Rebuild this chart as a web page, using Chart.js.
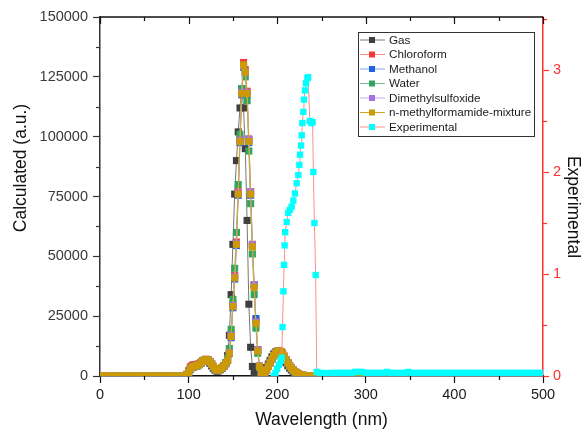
<!DOCTYPE html>
<html><head><meta charset="utf-8">
<script src="https://cdn.jsdelivr.net/npm/chart.js@4"></script>
<style>html,body{margin:0;padding:0;background:#fff}canvas{display:block}</style>
</head><body>
<canvas id="c" width="585" height="433"></canvas>
<script>
// ---------- DATA ----------
const seriesNames = ['Gas','Chloroform','Methanol','Water','Dimethylsulfoxide','n-methylformamide-mixture','Experimental'];

// wavelength grid of the calculated spectra (nm)
const lowNm = [0,4,8,12,16,20,24,28,32,36,40,44,48,52,56,60,64,68,72,76,80,84,88,92];
const lowVals = [0,0,0,0,0,0,0,0,0,0,0,0,0,0,0,0,0,0,0,0,0,0,0,0];
const peakNm = [
  96,98,100,102,104,106,108,110,112,114,
  116,118,120,122,124,126,128,130,132,134,
  136,138,140,142,144,146,148,150,152,154,
  156,158,160,162,164,166,168,170,172,174,
  176,178,180,182,184,186,188,190,192,194,
  196,198,200,202,204,206,208,210,212,214,
  216,218,220,222,224,226,228,230,232,234,
  236,238,240,242,244,246,248,250,252,254,
  256,258,260,262,264,266,268,270,272,274,
  276,278,280];
const highNm = [284,288,292,296,300,304,308,312,316,320,324,328,332,336,340,344,348,352,356,360,364,368,372,376,380,384,388,392,396,400,404,408,412,416,420,424,428,432,436,440,444,448,452,456,460,464,468,472,476,480,484,488,492,496,500];
const highVals = [0,0,0,0,0,0,0,0,0,0,0,0,0,0,0,0,0,0,0,0,0,0,0,0,0,0,0,0,0,0,0,0,0,0,0,0,0,0,0,0,0,0,0,0,0,0,0,0,0,0,0,0,0,0,0];

const gasPeak = [
  0,400,1300,2700,3500,3800,4000,4300,4800,5500,
  6100,6500,6600,6200,5300,4200,3200,2400,2000,2200,
  2700,3300,4200,5500,8500,17000,34000,55000,76000,90000,
  102000,112000,120000,112000,95000,65000,30000,12000,4000,1500,
  800,500,400,500,1000,2000,3500,5000,6500,8000,
  9200,10000,10300,10000,9300,8200,6800,5500,4300,3300,
  2500,1800,1300,900,600,400,250,150,100,50,
  0,0,0,0,0,0,0,0,0,0,
  200,400,600,700,700,600,400,300,150,50,
  0,0,0];
const chloroformPeak = [
  0,800,2200,3800,4500,4700,4800,4900,5200,5800,
  6400,6900,7000,6800,6100,5100,4000,3000,2500,2500,
  3000,3600,4300,5300,6800,10000,17500,30000,42000,56000,
  77000,99000,119000,131000,128000,119000,99000,77000,55000,38000,
  23000,11000,4200,1500,1000,1500,2600,4100,5600,7100,
  8600,9600,10300,10600,10300,9600,8300,6900,5600,4400,
  3400,2600,1900,1300,900,600,400,250,150,100,
  50,0,0,0,0,0,0,0,0,0,
  200,500,700,800,800,700,500,300,200,100,
  0,0,0];
const methanolPeak = [
  0,500,1500,2900,3700,3900,4100,4300,4700,5400,
  6100,6600,6800,6600,5900,4900,3900,2900,2400,2400,
  2900,3400,4100,5100,6400,9400,16000,28500,40500,54500,
  75500,97500,117500,129000,126500,117500,97500,75500,54500,38000,
  24000,11000,3800,1400,1000,1500,2500,4000,5500,7000,
  8400,9400,10100,10400,10100,9400,8100,6700,5400,4200,
  3200,2400,1700,1200,850,550,350,200,120,80,
  40,0,0,0,0,0,0,0,0,0,
  300,600,800,900,900,800,600,400,200,100,
  0,0,0];
const waterPeak = [
  0,600,1700,3100,3900,4100,4300,4500,4900,5600,
  6300,6800,6900,6600,5800,4800,3800,2900,2400,2500,
  3000,3600,4400,5600,7500,11500,19500,32000,45000,60000,
  80000,101000,120000,129000,125000,115000,94000,72000,51000,34000,
  20000,9500,3600,1300,1000,1600,2700,4200,5700,7200,
  8700,9700,10300,10500,10100,9300,8000,6600,5300,4100,
  3100,2300,1600,1100,800,500,300,200,100,50,
  0,0,0,0,0,0,0,0,0,0,
  300,600,800,900,900,800,600,400,200,100,
  0,0,0];
const dmsoPeak = [
  0,500,1600,3000,3800,4000,4200,4400,4800,5500,
  6200,6700,6900,6700,6000,5000,4000,3000,2500,2500,
  3000,3500,4200,5200,6600,9800,17000,29500,41500,55500,
  76500,98500,118500,129500,127000,118500,99000,77000,55000,38000,
  22500,11000,4200,1500,1000,1500,2500,4000,5500,7000,
  8500,9500,10200,10500,10200,9500,8200,6800,5500,4300,
  3300,2500,1800,1300,900,600,400,250,150,100,
  50,0,0,0,0,0,0,0,0,0,
  300,600,800,900,900,800,600,400,200,100,
  0,0,0];
const nmfPeak = [
  0,500,1500,3000,3800,4000,4200,4400,4800,5500,
  6200,6700,6900,6700,6000,5000,4000,3000,2500,2500,
  3000,3500,4200,5200,6500,9500,16500,29000,41000,55000,
  76000,98000,118000,130000,127000,118000,98000,76000,54000,37000,
  22000,10500,4000,1500,1000,1500,2500,4000,5500,7000,
  8500,9500,10200,10500,10200,9500,8200,6800,5500,4300,
  3300,2500,1800,1300,900,600,400,250,150,100,
  50,0,0,0,0,0,0,0,0,0,
  300,600,800,900,900,800,600,400,200,100,
  0,0,0];

// experimental spectrum (right axis)
const expNm = [196,198,200,202,204,205,206,207,207.7,208.4,209,210.7,212.5,214.3,216.3,218.2,220,222,223.8,225,
  225.7,226.9,227.7,228.4,229.5,230.2,231.4,232.5,234,235,236.8,238.5,240,240.8,242,243.4,244.6,
  248,252,256,260,264,268,272,276,280,284,288,292,296,300,304,308,312,316,320,324,328,332,336,340,344,348,352,356,360,
  364,368,372,376,380,384,388,392,396,400,404,408,412,416,420,424,428,432,436,440,444,448,452,456,460,464,468,472,476,480,484,488,492,496,500];
const expVals = [0,0.03,0.07,0.11,0.15,0.18,0.48,0.83,1.09,1.28,1.41,1.51,1.60,1.63,1.66,1.72,1.79,1.89,1.97,2.07,
  2.17,2.26,2.36,2.48,2.59,2.71,2.80,2.87,2.92,2.93,2.50,2.48,2.49,2.00,1.50,0.99,0.04,
  0.03,0.03,0.02,0.03,0.03,0.03,0.03,0.03,0.03,0.03,0.04,0.04,0.04,0.03,0.03,0.03,0.03,0.03,0.03,0.04,0.03,0.03,0.03,0.03,0.03,0.04,0.03,0.03,0.03,
  0.03,0.03,0.03,0.03,0.03,0.03,0.03,0.03,0.03,0.03,0.03,0.03,0.03,0.03,0.03,0.03,0.03,0.03,0.03,0.03,0.03,0.03,0.03,0.03,0.03,0.03,0.03,0.03,0.03,0.03,0.03,0.03,0.03,0.03,0.03];

// ticks
const xTickValues = [0,100,200,300,400,500];
const xMinorValues = [50,150,250,350,450];
const yTickValues = [0,25000,50000,75000,100000,125000,150000];
const yMinorValues = [12500,37500,62500,87500,112500,137500];
const y2TickValues = [0,1,2,3];
const y2MinorValues = [0.5,1.5,2.5,3.5];

// ---------- STYLE ----------
const FONT = "'Liberation Sans', Arial, sans-serif";
Chart.defaults.font.family = FONT;
const styles = [
  {line:'#767676', mark:'#3f3f3f'},
  {line:'#ff8a8a', mark:'#f23c3c'},
  {line:'#80a8f0', mark:'#2062e0'},
  {line:'#6cc48c', mark:'#2ea65e'},
  {line:'#caa8f2', mark:'#a472e6'},
  {line:'#d9a520', mark:'#cc9a06'},
  {line:'#ff8c8c', mark:'#00ffff'}
];

function calcPoints(peak){
  const pts = [];
  lowNm.forEach((x,i)=>pts.push({x, y: lowVals[i]}));
  peakNm.forEach((x,i)=>pts.push({x, y: peak[i]}));
  highNm.forEach((x,i)=>pts.push({x, y: highVals[i]}));
  return pts;
}
const calcSeries = [gasPeak, chloroformPeak, methanolPeak, waterPeak, dmsoPeak, nmfPeak];
const drawOrder = [6,5,4,3,2,1,0];

const datasets = calcSeries.map((peak,i)=>({
  label: seriesNames[i],
  data: calcPoints(peak),
  yAxisID: 'y',
  borderColor: styles[i].line,
  borderWidth: 1,
  backgroundColor: styles[i].mark,
  pointBackgroundColor: styles[i].mark,
  pointBorderWidth: 0,
  pointStyle: 'rect',
  pointRadius: 5,
  tension: 0,
  order: drawOrder[i]
}));
datasets.push({
  label: seriesNames[6],
  data: expNm.map((x,i)=>({x, y: expVals[i]})),
  yAxisID: 'y2',
  borderColor: styles[6].line,
  borderWidth: 1,
  backgroundColor: styles[6].mark,
  pointBackgroundColor: styles[6].mark,
  pointBorderWidth: 0,
  pointStyle: 'rect',
  pointRadius: 4.5,
  tension: 0,
  order: 0
});

const decor = {
  id: 'decor',
  afterDraw(chart){
    const {ctx, chartArea: a, scales} = chart;
    ctx.save();
    const seg = (x1,y1,x2,y2)=>{ctx.beginPath();ctx.moveTo(x1,y1);ctx.lineTo(x2,y2);ctx.stroke();};
    // minor ticks
    ctx.lineWidth = 1.2;
    ctx.strokeStyle = '#333';
    yMinorValues.forEach(v=>{const y=Math.round(scales.y.getPixelForValue(v))+0.5; seg(a.left-4,y,a.left,y);});
    ctx.strokeStyle = '#111';
    xMinorValues.forEach(v=>{const x=Math.round(scales.x.getPixelForValue(v))+0.5; seg(x,a.bottom,x,a.bottom+4);});
    ctx.strokeStyle = '#ff3030';
    y2MinorValues.forEach(v=>{const y=Math.round(scales.y2.getPixelForValue(v))+0.5; seg(a.right,y,a.right+4,y);});
    // top frame with inward ticks
    ctx.strokeStyle = '#111';
    ctx.lineWidth = 1.5;
    seg(a.left, a.top, a.right, a.top);
    ctx.lineWidth = 1.2;
    xTickValues.forEach(v=>{const x=Math.round(scales.x.getPixelForValue(v))+0.5; seg(x,a.top,x,a.top+7);});
    xMinorValues.forEach(v=>{const x=Math.round(scales.x.getPixelForValue(v))+0.5; seg(x,a.top,x,a.top+4);});
    // axis titles
    ctx.fillStyle = '#111';
    ctx.font = '17.5px ' + FONT;
    ctx.textAlign = 'center';
    ctx.textBaseline = 'middle';
    ctx.fillText('Wavelength (nm)', (a.left+a.right)/2, 420);
    ctx.save(); ctx.translate(21,168); ctx.rotate(-Math.PI/2); ctx.fillText('Calculated (a.u.)',0,0); ctx.restore();
    ctx.save(); ctx.translate(573,207); ctx.rotate(Math.PI/2); ctx.fillText('Experimental',0,0); ctx.restore();
    // legend
    const bx=358.5, by=32.5, bw=176, bh=104;
    ctx.fillStyle='#fff'; ctx.fillRect(bx,by,bw,bh);
    ctx.strokeStyle='#333'; ctx.lineWidth=1; ctx.strokeRect(bx,by,bw,bh);
    ctx.font = '11.7px ' + FONT;
    ctx.textAlign='left';
    seriesNames.forEach((name,i)=>{
      const y = 40 + i*14.5;
      ctx.strokeStyle = styles[i].line; ctx.lineWidth=1;
      seg(360, y, 385, y);
      ctx.fillStyle = styles[i].mark;
      ctx.fillRect(369, y-3, 6, 6);
      ctx.fillStyle = '#1a1a1a';
      ctx.fillText(name, 389, y+0.5);
    });
    ctx.restore();
  }
};

new Chart(document.getElementById('c'), {
  type: 'line',
  data: { datasets },
  plugins: [decor],
  options: {
    responsive: false,
    animation: false,
    layout: { padding: { top: 17, left: 0, right: 0, bottom: 0 } },
    plugins: { legend: { display: false }, tooltip: { enabled: false } },
    scales: {
      x: {
        type: 'linear', position: 'bottom', min: 0, max: 500,
        afterBuildTicks: s => { s.ticks = xTickValues.map(v=>({value:v})); },
        ticks: { callback: v => String(v), color: '#1a1a1a', font: { size: 14.5 }, padding: 3, maxRotation: 0, autoSkip: false },
        grid: { drawOnChartArea: false, tickLength: 7, tickColor: '#111', tickWidth: 1.2 },
        border: { color: '#111', width: 1.5 },
        afterFit: s => { s.height = 57; }
      },
      y: {
        type: 'linear', position: 'left', min: 0, max: 150000,
        afterBuildTicks: s => { s.ticks = yTickValues.map(v=>({value:v})); },
        ticks: { callback: v => String(v), color: '#3a3a3a', font: { size: 14.5 }, padding: 5, autoSkip: false },
        grid: { drawOnChartArea: false, tickLength: 7, tickColor: '#333', tickWidth: 1.2 },
        border: { color: '#333', width: 1.5 },
        afterFit: s => { s.width = 100; }
      },
      y2: {
        type: 'linear', position: 'right', min: 0, max: 3.52,
        afterBuildTicks: s => { s.ticks = y2TickValues.map(v=>({value:v})); },
        ticks: { callback: v => String(v), color: '#ff3030', font: { size: 14.5 }, padding: 4, autoSkip: false },
        grid: { drawOnChartArea: false, tickLength: 6, tickColor: '#ff3030', tickWidth: 1.2 },
        border: { color: '#ff3030', width: 1.5 },
        afterFit: s => { s.width = 42; }
      }
    }
  }
});
</script>
</body></html>
